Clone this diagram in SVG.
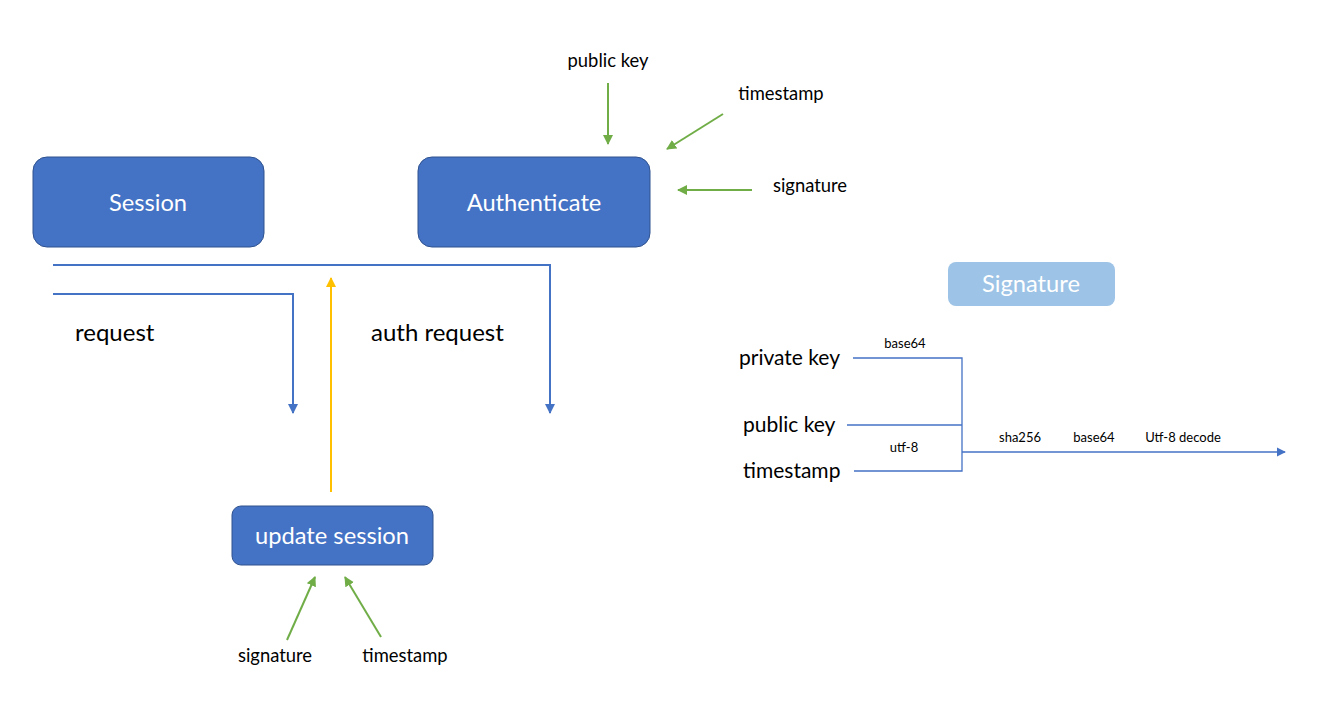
<svg xmlns="http://www.w3.org/2000/svg" width="1323" height="725" viewBox="0 0 1323 725">
<style>
text{font-family:Lato,"Open Sans","Liberation Sans",sans-serif;fill:#000}
.box{fill:#4472C4;stroke:#2F528F;stroke-width:1}
.bt{fill:#fff;font-size:23.7px;text-anchor:middle}
.lbl{font-size:24px}
.sm{font-size:18.4px;text-anchor:middle}
.xs{font-size:13px;text-anchor:middle}
.mid{font-size:21px}
.blue{stroke:#4472C4;stroke-width:2;fill:none}
.thin{stroke:#4472C4;stroke-width:1.3;fill:none}
.green{stroke:#70AD47;stroke-width:2;fill:none}
.yellow{stroke:#FFC000;stroke-width:2;fill:none}
</style>
<defs>
<marker id="ab" viewBox="0 0 10 10" refX="9" refY="5" markerWidth="5" markerHeight="5" orient="auto"><path d="M0,0L10,5L0,10z" fill="#4472C4"/></marker>
<marker id="ag" viewBox="0 0 10 10" refX="9" refY="5" markerWidth="5" markerHeight="5" orient="auto"><path d="M0,0L10,5L0,10z" fill="#70AD47"/></marker>
<marker id="ay" viewBox="0 0 10 10" refX="9" refY="5" markerWidth="5" markerHeight="5" orient="auto"><path d="M0,0L10,5L0,10z" fill="#FFC000"/></marker>
<marker id="ab2" viewBox="0 0 10 10" refX="9" refY="5" markerWidth="7" markerHeight="7" orient="auto"><path d="M0,0L10,5L0,10z" fill="#4472C4"/></marker>
</defs>
<g id="session"><rect class="box" x="33" y="157" width="231" height="90" rx="14"/><text class="bt" x="148" y="211">Session</text></g>
<g id="authenticate"><rect class="box" x="418" y="157" width="232" height="90" rx="14"/><text class="bt" x="534" y="211">Authenticate</text></g>
<g id="update-session"><rect class="box" x="232" y="506" width="201" height="59" rx="9"/><text class="bt" x="332" y="544">update session</text></g>
<g id="signature-title"><rect x="948" y="262" width="167" height="44" rx="8" fill="#9DC3E6"/><text class="bt" x="1031" y="292">Signature</text></g>
<g id="labels">
<text class="lbl" x="75" y="341">request</text>
<text class="lbl" x="371" y="341">auth request</text>
<text class="sm" x="608" y="67">public key</text>
<text class="sm" x="781" y="100">timestamp</text>
<text class="sm" x="810" y="192">signature</text>
<text class="sm" x="275" y="662">signature</text>
<text class="sm" x="405" y="662">timestamp</text>
<text class="mid" x="739" y="365">private key</text>
<text class="mid" x="743" y="432">public key</text>
<text class="mid" x="743" y="478">timestamp</text>
<text class="xs" x="905" y="348">base64</text>
<text class="xs" x="904" y="452">utf-8</text>
<text class="xs" x="1020" y="442">sha256</text>
<text class="xs" x="1094" y="442">base64</text>
<text class="xs" x="1183" y="442">Utf-8 decode</text>
</g>
<g id="connectors">
<path class="blue" d="M53,265H550V413" marker-end="url(#ab)"/>
<path class="blue" d="M53,294H293V413" marker-end="url(#ab)"/>
<path class="yellow" d="M331,492V278" marker-end="url(#ay)"/>
<path class="green" d="M608,83V144" marker-end="url(#ag)"/>
<path class="green" d="M723,114L667,149" marker-end="url(#ag)"/>
<path class="green" d="M752,190H678" marker-end="url(#ag)"/>
<path class="green" d="M287,640L315,577" marker-end="url(#ag)"/>
<path class="green" d="M381,637L345,577" marker-end="url(#ag)"/>
<path class="thin" d="M853,358H962V471H854"/>
<path class="thin" d="M847,425H962"/>
<path class="thin" d="M962,452H1285" marker-end="url(#ab2)"/>
</g>
</svg>
